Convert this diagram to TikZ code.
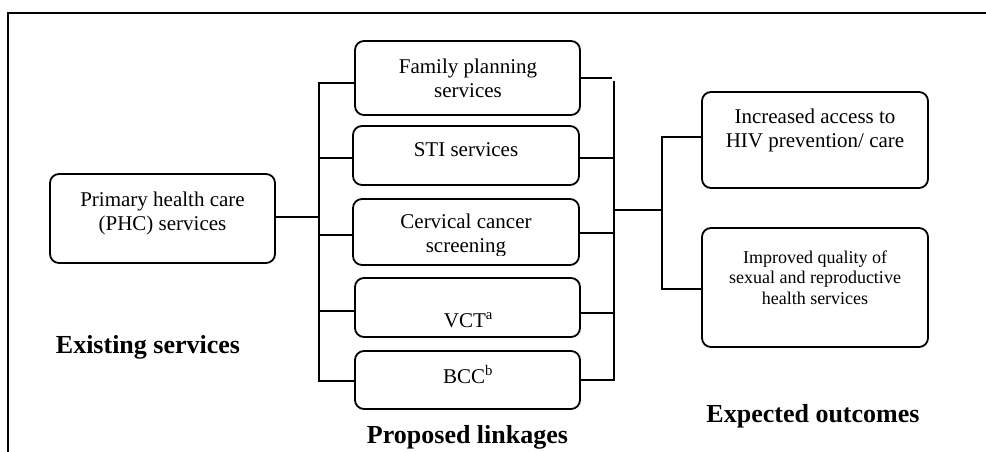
\documentclass[tikz,border=0pt]{standalone}
\usepackage{fontspec}
\setmainfont{Liberation Serif}
\begin{document}
\begin{tikzpicture}[x=1pt,y=-1pt,
  box/.style={draw, line width=1.8pt, rounded corners=9pt, inner sep=0pt},
  conn/.style={line width=1.8pt, line cap=rect},
  txt/.style={inner sep=0pt, align=center, anchor=base, font=\fontsize{21}{23.5}\selectfont},
  small/.style={inner sep=0pt, align=center, anchor=base, font=\fontsize{18}{20.5}\selectfont},
  head/.style={inner sep=0pt, anchor=base, font=\fontsize{26}{30}\selectfont\bfseries}]
\useasboundingbox (0,0) rectangle (986,452);
% frame
\draw[line width=1.8pt] (8,452) -- (8,13) -- (986,13);
% boxes
\node[box, minimum width=225pt, minimum height=89pt] (phc) at (162.5,218.5) {};
\node[box, minimum width=225pt, minimum height=74pt] (fp) at (467.5,78) {};
\node[box, minimum width=226pt, minimum height=59pt] (sti) at (466,155.5) {};
\node[box, minimum width=226pt, minimum height=66pt] (cc) at (466,232) {};
\node[box, minimum width=225pt, minimum height=59pt] (vct) at (467.5,307.5) {};
\node[box, minimum width=225pt, minimum height=58pt] (bcc) at (467.5,380) {};
\node[box, minimum width=226pt, minimum height=96pt] (inc) at (815,140) {};
\node[box, minimum width=226pt, minimum height=119pt] (imp) at (815,287.5) {};
% texts (base = baseline of last line)
\node[txt] (phct) at (162.5,230) {Primary health care\\(PHC) services};
\node[txt] (fpt) at (468,97) {Family planning\\services};
\node[txt] (stit) at (466,157) {STI services};
\begin{scope}
\clip (340,190) rectangle (600,255);
\node[txt] (cct) at (466,252) {Cervical cancer\\screening};
\end{scope}
\node[txt] (vctt) at (468.5,327) {VCT\textsuperscript{a}};
\node[txt] (bcct) at (468,383) {BCC\textsuperscript{b}};
\node[txt] (inct) at (815,147) {Increased access to\\HIV prevention/ care};
\node[small] (impt) at (815,304) {Improved quality of\\sexual and reproductive\\health services};
% headings
\node[head] (h1) at (148,353) {Existing services};
\node[head] (h2) at (467.5,443) {Proposed linkages};
\node[head] (h3) at (813,422) {Expected outcomes};
% left bus
\coordinate (L0) at (319,217);
\coordinate (L1) at (319,83);
\coordinate (L2) at (319,158);
\coordinate (L3) at (319,235);
\coordinate (L4) at (319,311);
\coordinate (L5) at (319,381);
\draw[conn] (L1) -- (L5);
\draw[conn] (phc.east |- L0) -- (L0);
\draw[conn] (L1) -- (L1 -| fp.west);
\draw[conn] (L2) -- (L2 -| sti.west);
\draw[conn] (L3) -- (L3 -| cc.west);
\draw[conn] (L4) -- (L4 -| vct.west);
\draw[conn] (L5) -- (L5 -| bcc.west);
% right bus
\coordinate (F1) at (611,78);
\coordinate (R1) at (614,82);
\coordinate (R2) at (614,158);
\coordinate (R3) at (614,233);
\coordinate (R4) at (614,313);
\coordinate (R5) at (614,380);
\coordinate (M) at (614,210);
\draw[conn] (fp.east |- F1) -- (F1);
\draw[conn] (R1) -- (R5);
\draw[conn] (sti.east |- R2) -- (R2);
\draw[conn] (cc.east |- R3) -- (R3);
\draw[conn] (vct.east |- R4) -- (R4);
\draw[conn] (bcc.east |- R5) -- (R5);
% outcomes bus
\coordinate (O0) at (662,210);
\coordinate (O1) at (662,137);
\coordinate (O2) at (662,289);
\draw[conn] (M) -- (O0);
\draw[conn] (O1) -- (O2);
\draw[conn] (O1) -- (O1 -| inc.west);
\draw[conn] (O2) -- (O2 -| imp.west);
\end{tikzpicture}
\end{document}
